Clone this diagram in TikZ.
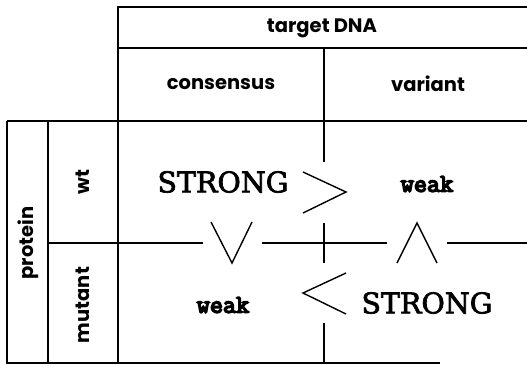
\documentclass[tikz,border=0pt]{standalone}
\usepackage{fontspec}
\newfontfamily\hdrfont{Poppins}
\newfontfamily\strongfont[FakeBold=2.5]{DejaVu Serif}
\newfontfamily\weakfont[FakeBold=6]{Latin Modern Mono}
\begin{document}
\begin{tikzpicture}[x=1pt,y=-1pt,
  grid/.style={line width=1.4pt},
  rel/.style={line width=1.4pt,line join=miter},
  hdr/.style={font=\hdrfont\bfseries\fontsize{19.5}{22}\selectfont,inner sep=0pt},
  strong/.style={font=\strongfont\fontsize{28.5}{32}\selectfont,inner sep=0pt},
  weak/.style={font=\weakfont\fontsize{25.5}{28}\selectfont,inner sep=0pt}]
\useasboundingbox (0,0) rectangle (527,365);
% grid
\draw[grid] (527,7) -- (118,7) -- (118,363);
\draw[grid] (118,48) -- (527,48);
\draw[grid] (7,121) -- (527,121);
\draw[grid] (7,121) -- (7,363) -- (440,363);
\draw[grid] (48,121) -- (48,363);
\draw[grid] (48,243) -- (203,243);
\draw[grid] (262,243) -- (387,243);
\draw[grid] (447,243) -- (527,243);
\draw[grid] (324,48) -- (324,162);
\draw[grid] (324,223) -- (324,263);
\draw[grid] (324,323) -- (324,363);
% relations
\draw[rel] (303,172) -- (346,192) -- (303,213);
\draw[rel] (346,273) -- (303,293) -- (346,314);
\draw[rel] (211,222) -- (232,263) -- (252,222);
\draw[rel] (397,263) -- (417,223) -- (437,263);
% texts
\node[hdr] (tdna) at (322,28) {target DNA};
\node[hdr] (cons) at (221,84) {consensus};
\node[hdr] (var) at (428,84) {variant};
\node[hdr,rotate=90] (prot) at (28,243) {protein};
\node[hdr,rotate=90] (wt) at (83,182) {wt};
\node[hdr,rotate=90] (mut) at (83,305) {mutant};
\node[strong] (s1) at (223,182) {STRONG};
\node[weak] (w1) at (427,184) {weak};
\node[weak] (w2) at (223,305) {weak};
\node[strong] (s2) at (427,303) {STRONG};
\end{tikzpicture}
\end{document}
